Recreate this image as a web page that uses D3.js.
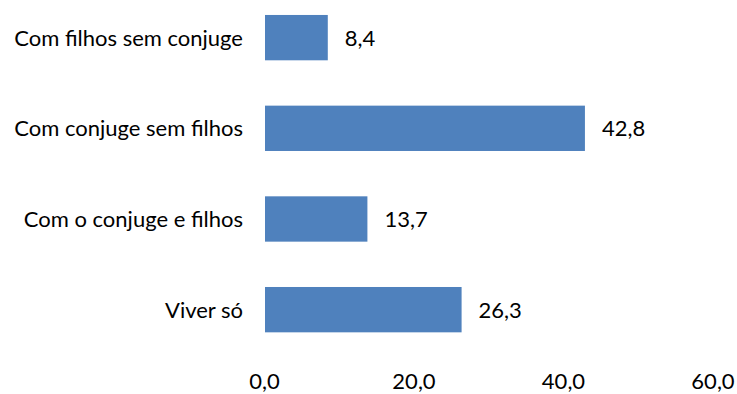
<!DOCTYPE html>
<html>
<head>
<meta charset="utf-8">
<script src="https://cdn.jsdelivr.net/npm/d3@7"></script>
<style>
  html, body { margin: 0; padding: 0; background: #fff; }
  svg text { font-family: Lato, "Open Sans", sans-serif; fill: #000; }
</style>
</head>
<body>
<svg id="chart" width="737" height="394"></svg>
<script>
// Household composition shares (%)
const categories = ["Com filhos sem conjuge", "Com conjuge sem filhos", "Com o conjuge e filhos", "Viver só"];
const values = [8.4, 42.8, 13.7, 26.3];
const tickValues = [0, 20, 40, 60];

const fmt = v => d3.format(".1f")(v).replace(".", ",");
const fontSize = 22;

const svg = d3.select("#chart");
const x = d3.scaleLinear().domain([0, 60]).range([265, 713.5]);
const y = d3.scaleBand().domain(categories).range([-7.7, 355]).paddingInner(0.5).paddingOuter(0.25);

svg.selectAll("rect.bar")
  .data(categories)
  .join("rect")
  .attr("class", "bar")
  .attr("x", x(0))
  .attr("y", d => y(d))
  .attr("width", (d, i) => x(values[i]) - x(0))
  .attr("height", y.bandwidth())
  .attr("fill", "#4F81BD");

svg.selectAll("text.val")
  .data(categories)
  .join("text")
  .attr("class", "val")
  .attr("x", (d, i) => x(values[i]) + 17)
  .attr("y", d => y(d) + y.bandwidth() / 2)
  .attr("dy", "0.36em")
  .attr("font-size", fontSize)
  .text((d, i) => fmt(values[i]));

svg.selectAll("text.cat")
  .data(categories)
  .join("text")
  .attr("class", "cat")
  .attr("x", 243)
  .attr("y", d => y(d) + y.bandwidth() / 2)
  .attr("dy", "0.36em")
  .attr("text-anchor", "end")
  .attr("font-size", fontSize)
  .text(d => d);

// Bottom axis: labels only, no domain line or tick marks
const xAxis = d3.axisBottom(x).tickValues(tickValues).tickFormat(fmt).tickSize(0).tickPadding(0);
const gx = svg.append("g").attr("transform", "translate(-1,0)").call(xAxis);
gx.select(".domain").remove();
gx.selectAll("text")
  .attr("y", 389).attr("dy", 0)
  .attr("font-size", fontSize)
  .attr("font-family", "Lato, 'Open Sans', sans-serif")
  .attr("fill", "#000");
</script>
</body>
</html>
